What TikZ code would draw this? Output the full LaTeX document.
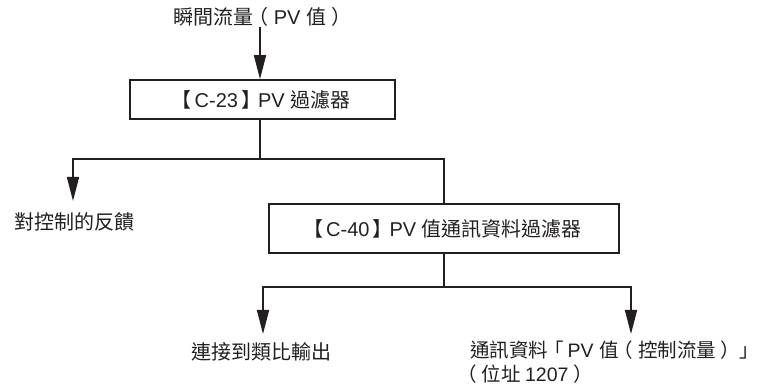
\documentclass[tikz,border=0pt]{standalone}
\usepackage{fontspec}
\setmainfont{Liberation Sans}
\newfontfamily\cjk{Noto Sans CJK TC}
\newcommand{\zh}[1]{{\cjk #1}}
\newcommand{\op}[2][0.25em]{\kern-#1{\cjk #2}\kern#1}
\newcommand{\cl}[2][0.25em]{\kern#1{\cjk #2}\kern-#1}
\usetikzlibrary{arrows.meta}
\definecolor{ink}{HTML}{231F20}
\tikzset{
  conn/.style={draw=ink, line width=1.6pt},
  arr/.style={conn, -{Triangle[length=24pt,width=12pt]}},
  box/.style={draw=ink, line width=1.6pt, inner sep=0pt, text=ink},
  lbl/.style={inner sep=0pt, text=ink}
}
\begin{document}
\begin{tikzpicture}[x=1pt,y=-1pt, font=\fontsize{20}{24}\selectfont]
\useasboundingbox (0,0) rectangle (763,387);
\node[lbl] (top) at (260,17) {\zh{瞬間流量}\op{（}PV \zh{值}\cl{）}};
\node[box, minimum width=265pt, minimum height=39pt] (b1) at (262.5,99.5) {\op[0.15em]{【}C-23\cl[0.15em]{】}PV \zh{過濾器}};
\node[lbl] (fb) at (74,222) {\zh{對控制的反饋}};
\node[box, minimum width=350pt, minimum height=49pt] (b2) at (444,228.5) {\op[0.15em]{【}C-40\cl[0.15em]{】}PV \zh{值通訊資料過濾器}};
\node[lbl] (ana) at (261,352) {\zh{連接到類比輸出}};
\node[lbl, anchor=north west, align=left, font=\fontsize{19.5}{24}\selectfont] (comm) at (470,341) {\zh{通訊資料}\op[0.18em]{「}PV \zh{值}\op{（}\zh{控制流量}\cl{）}\cl[0.2em]{」}\\[0pt]\hspace*{-8pt}\op{（}\zh{位址 }1207\cl{）}};
\coordinate (j1) at (260,159);
\coordinate (fbtip) at (73,201);
\coordinate (j2) at (444,287);
\coordinate (anatip) at (263,334);
\coordinate (commtip) at (631,334);
\draw[arr] (top.south) -- (top.south |- b1.north);
\draw[conn] (b1.south -| j1) -- (j1);
\draw[arr] (j1) -| (fbtip);
\draw[conn] (j1) -| (b2.north);
\draw[conn] (b2.south) -- (j2);
\draw[arr] (j2) -| (anatip);
\draw[arr] (j2) -| (commtip);
\end{tikzpicture}
\end{document}
